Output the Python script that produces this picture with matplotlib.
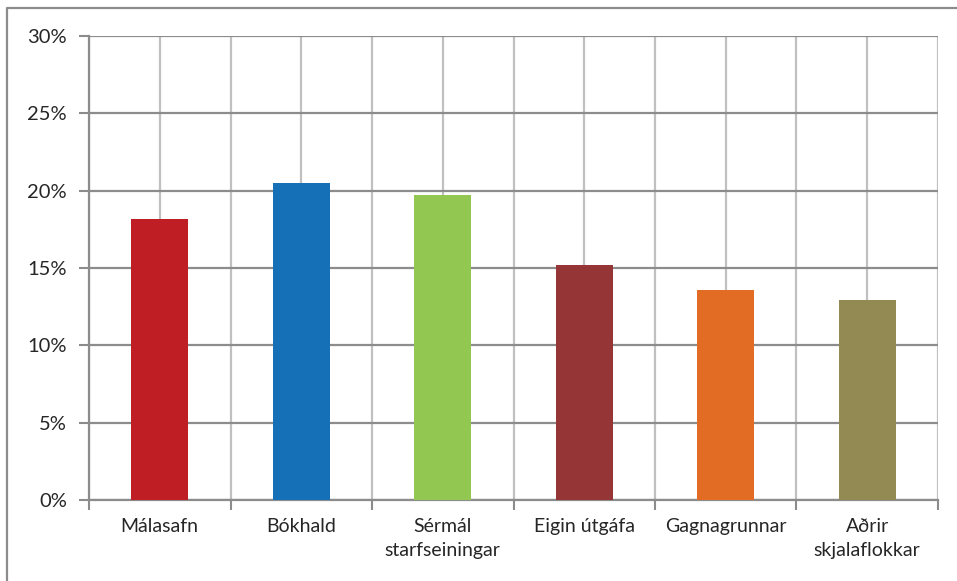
import matplotlib
matplotlib.use("Agg")
import matplotlib.pyplot as plt
from matplotlib.lines import Line2D
from matplotlib.ticker import FuncFormatter

categories = ["Málasafn", "Bókhald", "Sérmál\nstarfseiningar", "Eigin útgáfa",
              "Gagnagrunnar", "Aðrir\nskjalaflokkar"]
values = [18.2, 20.5, 19.7, 15.2, 13.6, 12.9]
colors = ["#BE1E24", "#1570B8", "#92C852", "#953535", "#E36C25", "#938953"]
y_ticks = [0, 5, 10, 15, 20, 25, 30]

plt.rcParams['font.family'] = ['Lato', 'DejaVu Sans']

fig = plt.figure(figsize=(9.57, 5.81), dpi=100)
ax = fig.add_axes([89 / 957, 1 - 500 / 581, (938 - 89) / 957, (500 - 36) / 581])

x = list(range(len(categories)))
ax.bar(x, values, width=0.4, color=colors, zorder=3)

ax.set_xlim(-0.5, len(categories) - 0.5)
ax.set_ylim(0, 30)
ax.set_yticks(y_ticks)
ax.yaxis.set_major_formatter(FuncFormatter(lambda v, p: f"{v:.0f}%"))

# category boundaries carry the tick marks, centres carry the labels
ax.set_xticks([i - 0.5 for i in range(len(categories) + 1)])
ax.set_xticklabels([])
ax.set_xticks(x, minor=True)
ax.set_xticklabels(categories, minor=True, fontsize=14, color="#262626",
                   linespacing=1.5)
ax.tick_params(axis="x", which="major", length=7, width=1.5, color="#8c8c8c")
ax.tick_params(axis="x", which="minor", length=0, pad=13)
ax.tick_params(axis="y", length=7, width=1.5, color="#8c8c8c", pad=9,
               labelsize=14.5, labelcolor="#262626")

ax.set_axisbelow(True)
ax.grid(axis="y", color="#8c8c8c", linewidth=1.6)
ax.grid(axis="x", which="both", color="#c0c0c0", linewidth=1.6)

for s in ["top", "right"]:
    ax.spines[s].set_visible(False)
for s in ["left", "bottom"]:
    ax.spines[s].set_color("#8c8c8c")
    ax.spines[s].set_linewidth(1.6)

# outer chart frame (only top and left edges fall inside the picture)
fx = 7.5 / 957
fy = 1 - 7.5 / 581
fig.add_artist(Line2D([fx, fx, 1.01], [-0.01, fy, fy], transform=fig.transFigure,
                      color="#8c8c8c", linewidth=1.6))

fig.savefig("out.png", dpi=100)
